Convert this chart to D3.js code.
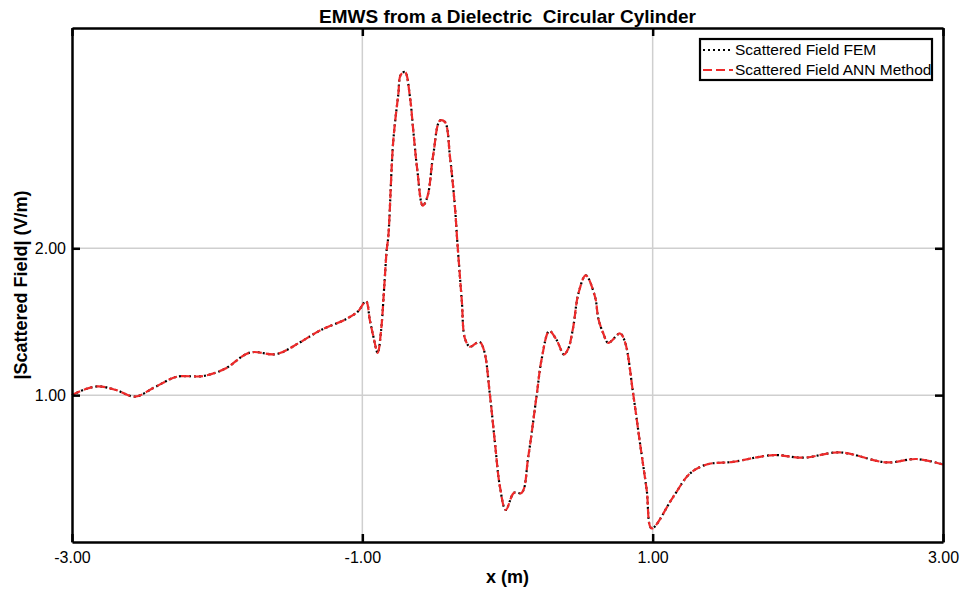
<!DOCTYPE html>
<html>
<head>
<meta charset="utf-8">
<script src="https://cdn.jsdelivr.net/npm/d3@7"></script>
<style>
  body { margin: 0; background: #fff; }
  svg { display: block; font-family: "Liberation Sans", Arial, Helvetica, sans-serif; }
</style>
</head>
<body>
<svg id="chart" width="961" height="591"></svg>
<script>
'use strict';

// positions along the line (m)
var xValues = [-3.000, -2.910, -2.819, -2.697, -2.566, -2.428, -2.279, -2.098, -1.946, -1.774,
  -1.590, -1.429, -1.292, -1.108, -1.030, -0.975, -0.948, -0.924, -0.894, -0.871,
  -0.849, -0.832, -0.821, -0.787, -0.752, -0.736, -0.706, -0.672, -0.649, -0.621,
  -0.584, -0.552, -0.511, -0.465, -0.431, -0.396, -0.362, -0.346, -0.315, -0.293,
  -0.258, -0.194, -0.162, -0.121, -0.086, -0.052, -0.012, 0.045, 0.098, 0.143,
  0.201, 0.236, 0.288, 0.339, 0.389, 0.419, 0.453, 0.488, 0.539, 0.603,
  0.626, 0.660, 0.694, 0.775, 0.809, 0.867, 0.913, 0.959, 0.993, 1.142,
  1.257, 1.372, 1.555, 1.831, 2.038, 2.290, 2.612, 2.819, 3.000];

// |scattered field| from FEM (V/m)
var femValues = [1.00, 1.04, 1.06, 1.035, 0.99, 1.055, 1.125, 1.13, 1.18, 1.29,
  1.28, 1.36, 1.44, 1.52, 1.57, 1.64, 1.51, 1.40, 1.288, 1.44,
  1.74, 1.99, 2.08, 2.73, 3.05, 3.18, 3.20, 3.03, 2.80, 2.53,
  2.29, 2.35, 2.64, 2.87, 2.86, 2.62, 2.28, 2.05, 1.646, 1.385,
  1.33, 1.363, 1.306, 1.00, 0.671, 0.376, 0.218, 0.335, 0.335, 0.58,
  1.00, 1.25, 1.437, 1.374, 1.277, 1.318, 1.465, 1.69, 1.816, 1.67,
  1.52, 1.42, 1.356, 1.42, 1.363, 1.00, 0.671, 0.354, 0.093, 0.308,
  0.467, 0.528, 0.546, 0.592, 0.574, 0.610, 0.542, 0.565, 0.528];

// |scattered field| from the ANN method (V/m)
var annValues = [1.00, 1.04, 1.06, 1.035, 0.99, 1.055, 1.125, 1.13, 1.18, 1.29,
  1.28, 1.36, 1.44, 1.52, 1.57, 1.64, 1.51, 1.40, 1.288, 1.44,
  1.74, 1.99, 2.08, 2.73, 3.05, 3.18, 3.20, 3.03, 2.80, 2.53,
  2.29, 2.35, 2.64, 2.87, 2.86, 2.62, 2.28, 2.05, 1.646, 1.385,
  1.33, 1.363, 1.306, 1.00, 0.671, 0.376, 0.218, 0.335, 0.335, 0.58,
  1.00, 1.25, 1.437, 1.374, 1.277, 1.318, 1.465, 1.69, 1.816, 1.67,
  1.52, 1.42, 1.356, 1.42, 1.363, 1.00, 0.671, 0.354, 0.093, 0.308,
  0.467, 0.528, 0.546, 0.592, 0.574, 0.610, 0.542, 0.565, 0.528];

var xTicks = [-3, -1, 1, 3];
var yTicks = [1, 2];
var seriesNames = ['Scattered Field FEM', 'Scattered Field ANN Method'];

var svg = d3.select('#chart');
var margin = {top: 28, right: 18, bottom: 49, left: 72};
var width = 961 - margin.left - margin.right;
var height = 591 - margin.top - margin.bottom;

var x = d3.scaleLinear().domain([-3, 3]).range([0, width]);
var y = d3.scaleLinear().domain([0, 3.5]).range([height, 0]);

var g = svg.append('g').attr('transform', `translate(${margin.left},${margin.top})`);

// grid
g.append('g').selectAll('line').data(xTicks.filter(d => d > -3 && d < 3)).join('line')
    .attr('x1', d => x(d)).attr('x2', d => x(d))
    .attr('y1', 0).attr('y2', height)
    .attr('stroke', '#cfcfcf').attr('stroke-width', 1.5);
g.append('g').selectAll('line').data(yTicks).join('line')
    .attr('x1', 0).attr('x2', width)
    .attr('y1', d => y(d)).attr('y2', d => y(d))
    .attr('stroke', '#cfcfcf').attr('stroke-width', 1.5);

// lines
var fmt = d => d.toFixed(2);   // plain hyphen, not d3's minus sign
var line = d3.line()
    .x(d => x(d[0]))
    .y(d => y(d[1]))
    .curve(d3.curveCatmullRom.alpha(0.5));

var femData = xValues.map((v, i) => [v, femValues[i]]);
var annData = xValues.map((v, i) => [v, annValues[i]]);

g.append('path').datum(femData)
    .attr('d', line)
    .attr('fill', 'none')
    .attr('stroke', '#000')
    .attr('stroke-width', 2.2)
    .attr('stroke-dasharray', '2,3');

g.append('path').datum(annData)
    .attr('d', line)
    .attr('fill', 'none')
    .attr('stroke', '#ee2a2a')
    .attr('stroke-width', 2.2)
    .attr('stroke-dasharray', '9,4');

// axes: inward ticks on all four sides
var axBottom = g.append('g').attr('transform', `translate(0,${height})`)
    .call(d3.axisBottom(x).tickValues(xTicks).tickFormat(fmt).tickSizeInner(-8).tickSizeOuter(0).tickPadding(10));
var axTop = g.append('g')
    .call(d3.axisTop(x).tickValues(xTicks).tickFormat('').tickSizeInner(-8).tickSizeOuter(0));
var axLeft = g.append('g')
    .call(d3.axisLeft(y).tickValues(yTicks).tickFormat(fmt).tickSizeInner(-8).tickSizeOuter(0).tickPadding(6));
var axRight = g.append('g').attr('transform', `translate(${width},0)`)
    .call(d3.axisRight(y).tickValues(yTicks).tickFormat('').tickSizeInner(-8).tickSizeOuter(0));

[axBottom, axTop, axLeft, axRight].forEach(a => {
  a.select('.domain').attr('stroke', '#000').attr('stroke-width', 2.5);
  a.selectAll('.tick line').attr('stroke', '#000').attr('stroke-width', 2.5);
  a.selectAll('.tick text').attr('fill', '#000').style('font-size', '16px')
      .style('font-family', '"Liberation Sans", Arial, sans-serif');
});

// titles
svg.append('text')
    .attr('x', margin.left + width / 2).attr('y', 23)
    .attr('text-anchor', 'middle')
    .style('font-size', '19px').style('font-weight', 'bold')
    .style('white-space', 'pre')
    .text('EMWS from a Dielectric  Circular Cylinder');

svg.append('text')
    .attr('x', margin.left + width / 2).attr('y', 583)
    .attr('text-anchor', 'middle')
    .style('font-size', '18px').style('font-weight', 'bold')
    .text('x (m)');

svg.append('text')
    .attr('transform', `translate(27,${margin.top + height / 2}) rotate(-90)`)
    .attr('text-anchor', 'middle')
    .style('font-size', '18px').style('font-weight', 'bold')
    .text('|Scattered Field| (V/m)');

// legend
var lg = svg.append('g').attr('transform', 'translate(700,39)');
lg.append('rect')
    .attr('width', 232).attr('height', 41)
    .attr('fill', '#fff').attr('stroke', '#000').attr('stroke-width', 2.2);

var legendStyles = [
  {stroke: '#000', dash: '2,3'},
  {stroke: '#ee2a2a', dash: '9,4'}
];
seriesNames.forEach((name, i) => {
  var ly = 11 + i * 20;
  lg.append('line')
      .attr('x1', 3).attr('x2', 33)
      .attr('y1', ly).attr('y2', ly)
      .attr('stroke', legendStyles[i].stroke)
      .attr('stroke-width', 2)
      .attr('stroke-dasharray', legendStyles[i].dash);
  lg.append('text')
      .attr('x', 35).attr('y', ly + 5)
      .style('font-size', '15.5px')
      .text(name);
});
</script>
</body>
</html>
